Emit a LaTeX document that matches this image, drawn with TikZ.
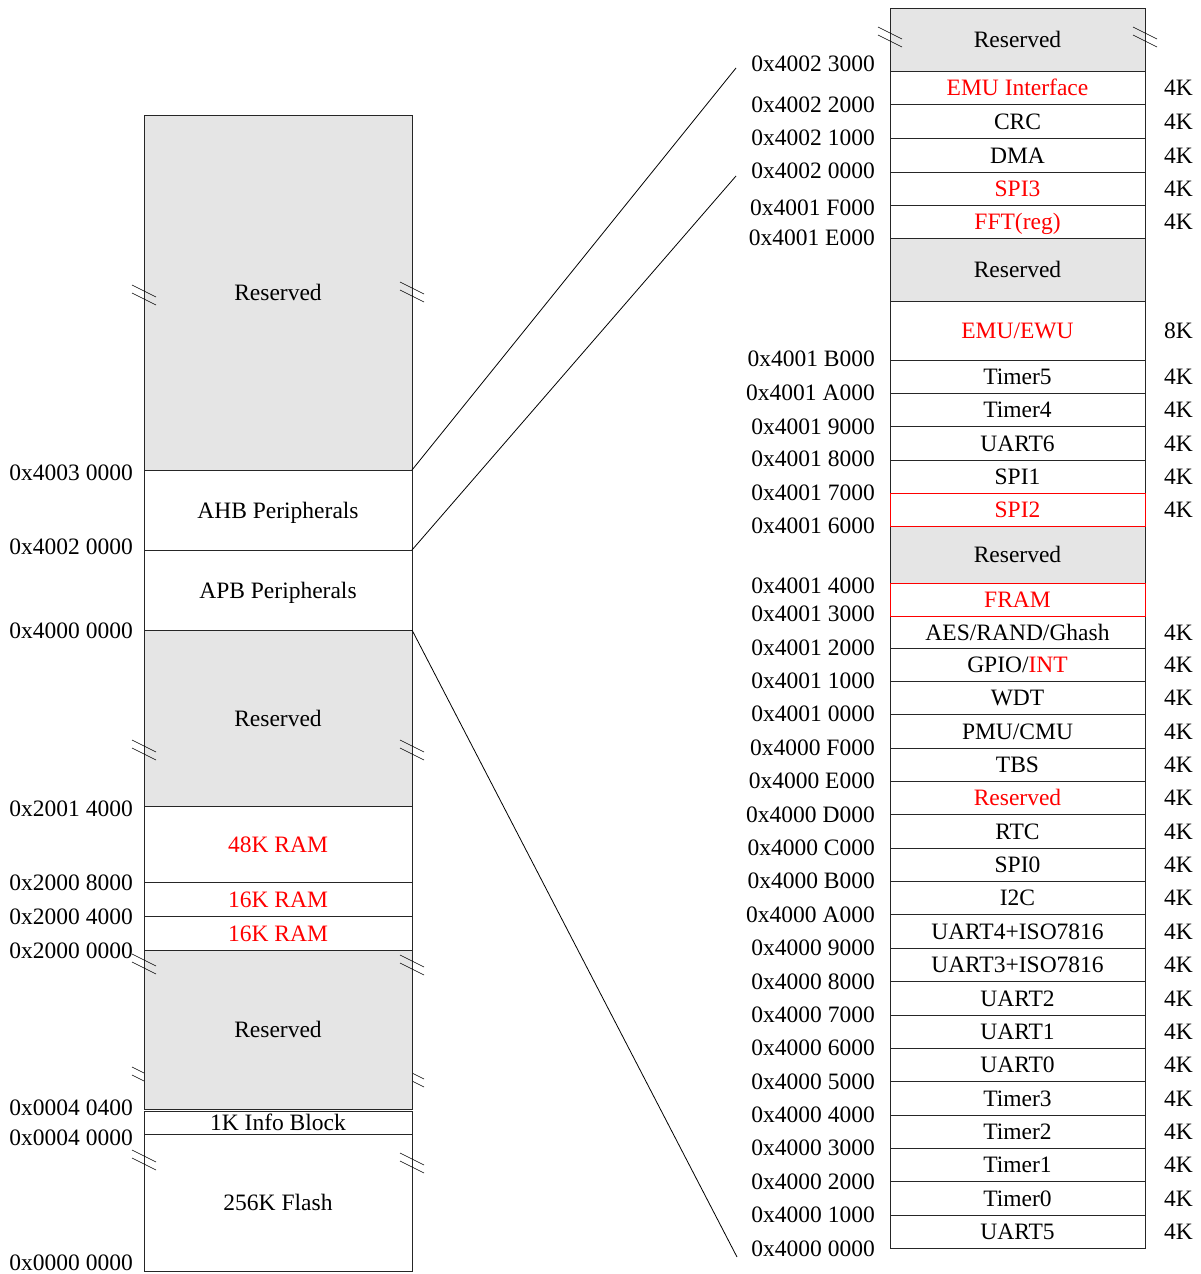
\documentclass[tikz,border=0pt]{standalone}
\usepackage{fontspec}
\setmainfont{Liberation Serif}
\usetikzlibrary{positioning}

\begin{document}
\begin{tikzpicture}[
    x=1pt, y=-1pt,
    font=\fontsize{23.5}{28}\selectfont,
    cell/.style={
        draw=black!85,
        line width=1pt,
        inner sep=0pt,
        outer sep=0pt,
        text height=16pt,
        text depth=0pt
    },
    lcell/.style={cell, minimum width=268pt},
    rcell/.style={cell, minimum width=255pt},
    rsv/.style={fill=gray!20},
    plain/.style={},
    hot/.style={text=red},
    redbox/.style={draw=red, text=red},
    addr/.style={anchor=east, inner sep=0pt, text height=16pt, text depth=0pt},
    size/.style={inner sep=0pt, text height=16pt, text depth=0pt},
    link/.style={line width=0.8pt},
    brk/.pic={\draw[line width=0.6pt] (-12,-8) -- (12,4) (-12,0) -- (12,12);}
]
\useasboundingbox (0,0) rectangle (1200,1274);

% marks hidden under the lower reserved block
\pic at (144,1075) {brk};
\pic at (412,1075) {brk};

% main memory map
\foreach \t/\b/\n/\s/\txt in {
    115/470/lres1/rsv/Reserved,
    470/550/ahb/plain/AHB Peripherals,
    550/630/apb/plain/APB Peripherals,
    630/806/lres2/rsv/Reserved,
    806/882/ram48/hot/48K RAM,
    882/916/ramb/hot/16K RAM,
    916/950/rama/hot/16K RAM,
    950/1109/lres3/rsv/Reserved,
    1111/1134/info/plain/1K Info Block,
    1134/1271/flash/plain/256K Flash}
    \node[lcell, \s, minimum height={(\b-\t)*1pt}] (\n) at (278,{(\t+\b)/2}) {\txt};

% peripheral map
\foreach \t/\b/\n/\s/\txt in {
    8/71/rres1/rsv/Reserved,
    71/104/emuif/hot/EMU Interface,
    104/138/crc/plain/CRC,
    138/172/dma/plain/DMA,
    172/205/spithree/hot/SPI3,
    205/238/fft/hot/FFT(reg),
    238/301/rres2/rsv/Reserved,
    301/360/emuewu/hot/{EMU/EWU},
    360/393/timerfive/plain/Timer5,
    393/426/timerfour/plain/Timer4,
    426/460/uartsix/plain/UART6,
    460/493/spione/plain/SPI1,
    526/583/rres3/rsv/Reserved,
    616/648/aes/plain/{AES/RAND/Ghash},
    648/681/gpio/plain/{GPIO/\textcolor{red}{INT}},
    681/714/wdt/plain/WDT,
    714/748/pmu/plain/{PMU/CMU},
    748/781/tbs/plain/TBS,
    781/814/rres4/hot/Reserved,
    814/848/rtc/plain/RTC,
    848/881/spizero/plain/SPI0,
    881/914/itwoc/plain/I2C,
    914/948/uartfour/plain/UART4+ISO7816,
    948/981/uartthree/plain/UART3+ISO7816,
    981/1015/uarttwo/plain/UART2,
    1015/1048/uartone/plain/UART1,
    1048/1081/uartzero/plain/UART0,
    1081/1115/timerthree/plain/Timer3,
    1115/1148/timertwo/plain/Timer2,
    1148/1181/timerone/plain/Timer1,
    1181/1215/timerzero/plain/Timer0,
    1215/1248/uartfive/plain/UART5}
    \node[rcell, \s, minimum height={(\b-\t)*1pt}] (\n) at (1017.5,{(\t+\b)/2}) {\txt};

\node[rcell, redbox, minimum height=33pt] (spitwo) at (1017.5,509.5) {SPI2};
\node[rcell, redbox, minimum height=33pt] (fram) at (1017.5,599.5) {FRAM};

% break marks
\foreach \x/\y in {144/293, 412/290, 144/748, 412/748, 144/962, 412/963,
                   144/1158, 412/1161, 890/35, 1145/35}
    \pic at (\x,\y) {brk};

% sizes
\foreach \n in {emuif, crc, dma, spithree, fft, timerfive, timerfour, uartsix,
                spione, spitwo, aes, gpio, wdt, pmu, tbs, rres4, rtc, spizero,
                itwoc, uartfour, uartthree, uarttwo, uartone, uartzero,
                timerthree, timertwo, timerone, timerzero, uartfive}
    \node[size, right=19pt of \n] (k\n) {4K};
\node[size, right=19pt of emuewu] (kemuewu) {8K};

% addresses
\foreach \y/\txt [count=\i] in {
    472/0x4003 0000, 546/0x4002 0000, 630/0x4000 0000, 808/0x2001 4000,
    882/0x2000 8000, 916/0x2000 4000, 950/0x2000 0000, 1107/0x0004 0400,
    1137/0x0004 0000, 1262/0x0000 0000}
    \node[addr] (la\i) at (133,\y) {\txt};

\foreach \y/\txt [count=\i] in {
    63/0x4002 3000, 104/0x4002 2000, 137/0x4002 1000, 170/0x4002 0000,
    207/0x4001 F000, 237/0x4001 E000, 358/0x4001 B000, 392/0x4001 A000,
    426/0x4001 9000, 458/0x4001 8000, 492/0x4001 7000, 525/0x4001 6000,
    585/0x4001 4000, 613/0x4001 3000, 647/0x4001 2000, 680/0x4001 1000,
    713/0x4001 0000, 747/0x4000 F000, 780/0x4000 E000, 814/0x4000 D000,
    847/0x4000 C000, 880/0x4000 B000, 914/0x4000 A000, 947/0x4000 9000,
    981/0x4000 8000, 1014/0x4000 7000, 1047/0x4000 6000, 1081/0x4000 5000,
    1114/0x4000 4000, 1147/0x4000 3000, 1181/0x4000 2000, 1214/0x4000 1000,
    1248/0x4000 0000}
    \node[addr] (ra\i) at (875,\y) {\txt};

% zoom lines
\coordinate (zt) at (736,68);
\coordinate (zm) at (736,176);
\coordinate (zb) at (737,1257);
\draw[link] (ahb.north east) -- (zt);
\draw[link] (apb.north east) -- (zm);
\draw[link] (apb.south east) -- (zb);
\end{tikzpicture}
\end{document}
